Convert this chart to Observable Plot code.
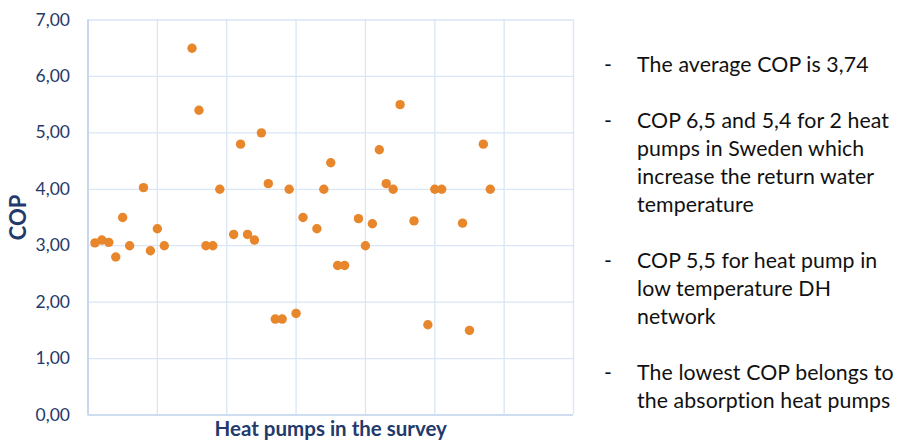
<!DOCTYPE html>
<html>
<head>
<meta charset="utf-8">
<script src="https://cdn.jsdelivr.net/npm/d3@7"></script>
<script src="https://cdn.jsdelivr.net/npm/@observablehq/plot@0.6"></script>
<style>
  html, body { margin: 0; padding: 0; background: #fff; }
  #wrap { position: relative; width: 902px; height: 442px; overflow: hidden; }
  #chart { position: absolute; left: 0; top: 0; }
  #notes { position: absolute; left: 602px; top: 50px; width: 300px;
           font-family: Lato, "Open Sans", sans-serif; font-size: 21.3px; line-height: 28px; color: #111;
           letter-spacing: 0.1px; }
  #notes p { margin: 0 0 28px 0; padding-left: 35px; position: relative; white-space: pre-line; }
  #notes p::before { content: "-"; position: absolute; left: 2px; top: 0; }
</style>
</head>
<body>
<div id="wrap">
  <div id="chart"></div>
  <div id="notes"></div>
</div>
<script>
// Survey index of each heat pump (horizontal position) and its COP
const pumpIndex = [1,2,3,4,5,6,8,9,10,11,15,16,17,18,19,21,22,23,24,25,26,27,28,29,30,31,33,34,35,
                   36,37,39,40,41,42,43,44,45,47,49,50,51,54,55,57,58];
const cop = [3.05,3.10,3.06,2.80,3.50,3.00,4.03,2.91,3.30,3.00,6.50,5.40,3.00,3.00,4.00,3.20,4.80,3.20,3.10,5.00,4.10,1.70,1.70,4.00,1.80,3.50,3.30,4.00,4.47,
             2.65,2.65,3.48,3.00,3.39,4.70,4.10,4.00,5.50,3.44,1.60,4.00,4.00,3.40,1.50,4.80,4.00];
const yTicks = [0,1,2,3,4,5,6,7];
const xGrid = [0,10,20,30,40,50,60,70];
const yLabel = "COP";
const xLabel = "Heat pumps in the survey";
const notes = [
  "The average COP is 3,74",
  "COP 6,5 and 5,4 for 2 heat\npumps in Sweden which\nincrease the return water\ntemperature",
  "COP 5,5 for heat pump in\nlow temperature DH\nnetwork",
  "The lowest COP belongs to\nthe absorption heat pumps"
];

const data = pumpIndex.map((x, i) => ({x, y: cop[i]}));
const gridColor = "#dae5f5";
const textColor = "#1f3a6b";

const plot = Plot.plot({
  width: 590,
  height: 442,
  marginLeft: 87.5,
  marginRight: 17,
  marginTop: 19.5,
  marginBottom: 27.5,
  style: { fontFamily: "Lato, 'Open Sans', sans-serif", background: "transparent" },
  x: { domain: [0, 70], axis: null },
  y: { domain: [0, 7], ticks: yTicks, label: null, tickFormat: d => d.toFixed(2).replace(".", ",") },
  marks: [
    Plot.gridY(yTicks, { stroke: gridColor, strokeOpacity: 1, strokeWidth: 1.3 }),
    Plot.gridX(xGrid, { stroke: gridColor, strokeOpacity: 1, strokeWidth: 1.3 }),
    Plot.ruleX([0], { stroke: "#b8cbe8", strokeWidth: 1.3 }),
    Plot.ruleY([0], { stroke: "#c9d8ef", strokeWidth: 1.3 }),
    Plot.axisY({ ticks: yTicks, tickSize: 0, tickPadding: 18, fontSize: 17.5, fill: textColor,
                 tickFormat: d => d.toFixed(2).replace(".", ","), label: null }),
    Plot.dot(data, { x: "x", y: "y", r: 4.7, fill: "#e8862c", stroke: "none" }),
    Plot.text([yLabel], { frameAnchor: "left", textAnchor: "middle", dx: -69, rotate: -90, fontSize: 22,
                          fontWeight: "bold", fill: textColor, letterSpacing: "0.5px" }),
    Plot.text([xLabel], { frameAnchor: "bottom", dy: 21, fontSize: 20.5, fontWeight: "bold", fill: textColor,
                          letterSpacing: "0.7px" })
  ]
});
document.getElementById("chart").appendChild(plot);

const notesDiv = document.getElementById("notes");
for (const n of notes) {
  const p = document.createElement("p");
  p.textContent = n;
  notesDiv.appendChild(p);
}
</script>
</body>
</html>
